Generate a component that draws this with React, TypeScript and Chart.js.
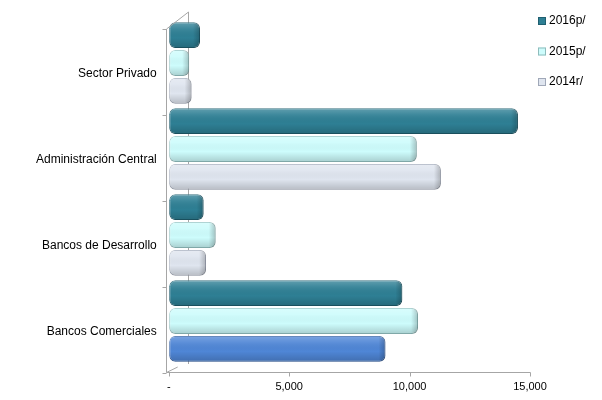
import React, { useEffect, useRef } from "react";
import { Chart, registerables } from "chart.js";

Chart.register(...registerables);

const categories = ["Sector Privado", "Administración Central", "Bancos de Desarrollo", "Bancos Comerciales"];
const seriesNames = ["2016p/", "2015p/", "2014r/"];
const values2016 = [1300, 14500, 1450, 9700];
const values2015 = [850, 10300, 1950, 10350];
const values2014 = [950, 11300, 1550, 9000];
const xTicks = [0, 5000, 10000, 15000];

const font = "'Liberation Sans', Arial, sans-serif";

const fill2016 = "#2e7f94";
const fill2015 = "#cdfcfc";
const fill2014 = "#dfe5ef";
const fill2014Alt = "#4f86d6";
const legendColors = [fill2016, fill2015, fill2014];
const legendBorders = ["#1f5f70", "#8fbcbc", "#a0a8b8"];
const axisColor = "#a6a6a6";

const customLegend = {
  id: "customLegend",
  afterDraw(chart: any) {
    const ctx = chart.ctx;
    const x0 = chart.chartArea.right + 8;
    ctx.save();
    chart.data.datasets.forEach((ds: any, i: number) => {
      const cy = 21 + i * 30.5;
      ctx.fillStyle = legendColors[i];
      ctx.strokeStyle = legendBorders[i];
      ctx.lineWidth = 1;
      ctx.fillRect(x0, cy - 4, 8, 8);
      ctx.strokeRect(x0 + 0.5, cy - 3.5, 7, 7);
      ctx.fillStyle = "#000";
      ctx.font = `12px ${font}`;
      ctx.textBaseline = "middle";
      ctx.textAlign = "left";
      ctx.fillText(ds.label, x0 + 11, cy);
    });
    ctx.restore();
  },
};

const backWall = {
  id: "backWall",
  beforeDatasetsDraw(chart: any) {
    const { ctx, chartArea } = chart;
    const { left, top, bottom } = chartArea;
    ctx.save();
    ctx.strokeStyle = axisColor;
    ctx.lineWidth = 1;
    ctx.beginPath();
    ctx.moveTo(Math.round(left + 19) + 0.5, top - 8);
    ctx.lineTo(Math.round(left + 19) + 0.5, bottom);
    ctx.stroke();
    ctx.restore();
  },
};

const shading = {
  id: "shading",
  afterDatasetsDraw(chart: any) {
    const ctx = chart.ctx;
    chart.data.datasets.forEach((_: any, di: number) => {
      const meta = chart.getDatasetMeta(di);
      meta.data.forEach((el: any) => {
        const x1 = Math.min(el.base, el.x);
        const x2 = Math.max(el.base, el.x);
        const y1 = el.y - el.height / 2;
        const h = el.height;
        ctx.save();
        ctx.beginPath();
        (ctx as any).roundRect(x1, y1, x2 - x1, h, 6);
        ctx.clip();
        const g = ctx.createLinearGradient(0, y1, 0, y1 + h);
        g.addColorStop(0, "rgba(255,255,255,0.25)");
        g.addColorStop(0.25, "rgba(255,255,255,0.08)");
        g.addColorStop(0.6, "rgba(0,0,0,0)");
        g.addColorStop(1, "rgba(0,0,0,0.18)");
        ctx.fillStyle = g;
        ctx.fillRect(x1, y1, x2 - x1, h);
        const g2 = ctx.createLinearGradient(x2 - 7, 0, x2, 0);
        g2.addColorStop(0, "rgba(0,0,0,0)");
        g2.addColorStop(1, "rgba(0,0,0,0.22)");
        ctx.fillStyle = g2;
        ctx.fillRect(x2 - 7, y1, 7, h);
        ctx.restore();
      });
    });
  },
};

const axes3d = {
  id: "axes3d",
  afterDraw(chart: any) {
    const { ctx, chartArea, scales } = chart;
    const { left, right, top, bottom } = chartArea;
    const ax = Math.round(left - 3) + 0.5;
    const yTop = top + 9;
    const yBot = Math.round(bottom + 8) + 0.5;
    const n = categories.length;
    const band = (bottom - top) / n;
    ctx.save();
    ctx.strokeStyle = axisColor;
    ctx.lineWidth = 1;
    ctx.beginPath();
    ctx.moveTo(ax, yTop);
    ctx.lineTo(ax, yBot);
    for (let i = 0; i <= n; i++) {
      const ty = Math.round(yTop + i * band) + 0.5;
      ctx.moveTo(ax - 4, ty);
      ctx.lineTo(ax, ty);
    }
    ctx.moveTo(ax, yBot);
    ctx.lineTo(Math.round(right) + 0.5, yBot);
    xTicks.forEach((v) => {
      const tx = Math.round(scales.x.getPixelForValue(v)) + 0.5;
      ctx.moveTo(tx, yBot);
      ctx.lineTo(tx, yBot + 4);
    });
    ctx.moveTo(ax, yBot);
    ctx.lineTo(left + 9, bottom + 3);
    ctx.moveTo(ax, yTop);
    ctx.lineTo(Math.round(left + 19) + 0.5, top - 8);
    ctx.stroke();
    ctx.restore();
  },
};

export default function App() {
  const ref = useRef<HTMLCanvasElement | null>(null);
  useEffect(() => {
    if (!ref.current) return;
    const common = { borderWidth: 1, borderRadius: 6, borderSkipped: false as const };
    const chart = new Chart(ref.current, {
      type: "bar",
      data: {
        labels: categories,
        datasets: [
          { label: seriesNames[0], data: values2016, backgroundColor: fill2016, borderColor: "#1f5f70", ...common },
          { label: seriesNames[1], data: values2015, backgroundColor: fill2015, borderColor: "#98c8c8", ...common },
          {
            label: seriesNames[2],
            data: values2014,
            backgroundColor: [fill2014, fill2014, fill2014, fill2014Alt],
            borderColor: ["#a8b0c0", "#a8b0c0", "#a8b0c0", "#3764a8"],
            ...common,
          },
        ],
      },
      options: {
        indexAxis: "y",
        animation: false,
        responsive: false,
        maintainAspectRatio: false,
        layout: { padding: { left: 28, right: 72, top: 20, bottom: 7 } },
        datasets: { bar: { categoryPercentage: 0.97, barPercentage: 0.93 } },
        scales: {
          x: {
            min: 0,
            max: 15000,
            afterBuildTicks: (axis: any) => {
              axis.ticks = xTicks.map((v) => ({ value: v }));
            },
            afterFit: (axis: any) => {
              axis.height = 29;
              axis.paddingLeft = 0;
              axis.paddingRight = 0;
            },
            ticks: {
              color: "#000",
              font: { family: font, size: 11 },
              padding: 12,
              maxRotation: 0,
              callback: (v: any) => (Number(v) === 0 ? "-" : Number(v).toLocaleString("en-US")),
            },
            grid: { drawOnChartArea: false, drawTicks: true, tickLength: 4, color: "rgba(0,0,0,0)" },
            border: { display: false },
          },
          y: {
            afterFit: (axis: any) => {
              axis.paddingTop = 0;
              axis.paddingBottom = 0;
            },
            ticks: { color: "#000", font: { family: font, size: 12 }, padding: 8, labelOffset: 11 },
            grid: { drawOnChartArea: false, drawTicks: true, tickLength: 4, color: "rgba(0,0,0,0)" },
            border: { display: false },
          },
        },
        plugins: {
          legend: { display: false },
          tooltip: { enabled: false },
        },
      },
      plugins: [backWall, shading, axes3d, customLegend],
    });
    return () => chart.destroy();
  }, []);
  return (
    <div style={{ position: "fixed", left: 0, top: 0, width: 602, height: 400, background: "#fff" }}>
      <canvas ref={ref} width={602} height={400} style={{ width: 602, height: 400 }} />
    </div>
  );
}
